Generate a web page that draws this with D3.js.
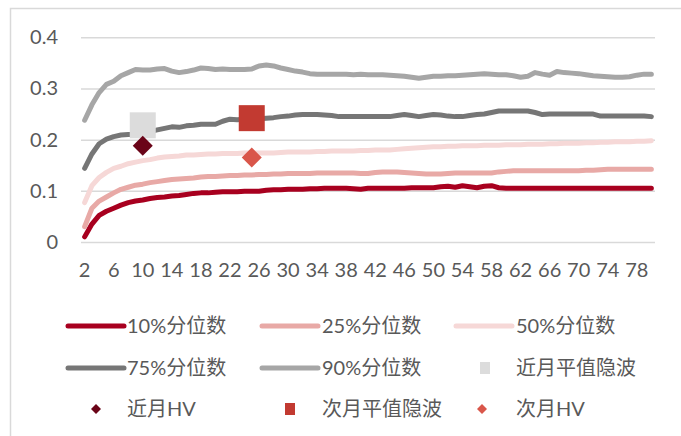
<!DOCTYPE html>
<html><head><meta charset="utf-8">
<script src="https://cdn.jsdelivr.net/npm/d3@7"></script>
<style>
html,body{margin:0;padding:0;background:#fff;}
svg text{font-family:"Lato","Noto Sans CJK SC",sans-serif;fill:#595959;}
</style></head>
<body><svg id="c" width="681" height="436"></svg>
<script>
// ---- data ----
const categories = d3.range(2, 81);
const tickLabels = [2,6,10,14,18,22,26,30,34,38,42,46,50,54,58,62,66,70,74,78];
const yTicks = [0, 0.1, 0.2, 0.3, 0.4];
const seriesNames = ["10%分位数","25%分位数","50%分位数","75%分位数","90%分位数"];
const p10 = [0.010,0.035,0.052,0.060,0.066,0.072,0.077,0.080,0.082,0.085,
  0.087,0.088,0.090,0.091,0.093,0.095,0.096,0.096,0.097,0.098,
  0.098,0.098,0.099,0.099,0.099,0.101,0.102,0.102,0.103,0.103,
  0.103,0.104,0.104,0.105,0.105,0.105,0.105,0.104,0.103,0.105,
  0.105,0.105,0.105,0.105,0.105,0.106,0.106,0.106,0.106,0.108,
  0.109,0.107,0.110,0.108,0.106,0.109,0.110,0.106,0.105,0.105,
  0.105,0.105,0.105,0.105,0.105,0.105,0.105,0.105,0.105,0.105,
  0.105,0.105,0.105,0.105,0.105,0.105,0.105,0.105,0.105];
const p25 = [0.030,0.066,0.080,0.088,0.096,0.103,0.107,0.111,0.113,0.116,
  0.118,0.120,0.122,0.123,0.124,0.125,0.127,0.128,0.128,0.129,
  0.130,0.130,0.131,0.131,0.132,0.132,0.133,0.133,0.134,0.134,
  0.134,0.134,0.135,0.135,0.135,0.135,0.135,0.135,0.134,0.134,
  0.136,0.137,0.137,0.137,0.136,0.135,0.134,0.133,0.133,0.133,
  0.134,0.135,0.135,0.135,0.135,0.135,0.135,0.137,0.138,0.139,
  0.139,0.139,0.139,0.139,0.139,0.139,0.139,0.139,0.139,0.140,
  0.140,0.141,0.142,0.142,0.142,0.142,0.142,0.142,0.142];
const p50 = [0.077,0.110,0.126,0.136,0.144,0.148,0.153,0.156,0.159,0.161,
  0.164,0.166,0.167,0.168,0.170,0.170,0.171,0.172,0.172,0.173,
  0.173,0.173,0.174,0.174,0.174,0.174,0.174,0.175,0.176,0.176,
  0.176,0.176,0.177,0.177,0.178,0.178,0.178,0.178,0.179,0.179,
  0.180,0.180,0.180,0.181,0.182,0.183,0.184,0.185,0.186,0.186,
  0.187,0.187,0.188,0.188,0.188,0.189,0.189,0.189,0.190,0.190,
  0.190,0.191,0.191,0.191,0.192,0.192,0.193,0.193,0.193,0.194,
  0.194,0.195,0.195,0.196,0.196,0.196,0.197,0.197,0.198];
const p75 = [0.144,0.172,0.192,0.201,0.206,0.209,0.210,0.210,0.212,0.216,
  0.219,0.222,0.225,0.224,0.227,0.228,0.230,0.230,0.230,0.236,
  0.240,0.239,0.240,0.240,0.241,0.242,0.243,0.245,0.246,0.248,
  0.249,0.249,0.249,0.248,0.247,0.245,0.245,0.245,0.245,0.245,
  0.245,0.245,0.245,0.247,0.249,0.247,0.245,0.247,0.249,0.248,
  0.246,0.245,0.245,0.247,0.249,0.250,0.253,0.256,0.256,0.256,
  0.256,0.256,0.253,0.249,0.250,0.250,0.250,0.250,0.250,0.250,
  0.250,0.246,0.246,0.246,0.246,0.246,0.246,0.246,0.245];
const p90 = [0.238,0.268,0.292,0.308,0.314,0.325,0.331,0.337,0.336,0.336,
  0.338,0.339,0.334,0.331,0.333,0.336,0.340,0.339,0.337,0.338,
  0.337,0.337,0.337,0.338,0.344,0.346,0.344,0.340,0.337,0.334,
  0.332,0.329,0.328,0.328,0.328,0.328,0.328,0.327,0.328,0.327,
  0.327,0.327,0.326,0.325,0.324,0.322,0.320,0.322,0.324,0.324,
  0.325,0.325,0.326,0.327,0.328,0.329,0.328,0.327,0.327,0.325,
  0.322,0.324,0.331,0.328,0.326,0.333,0.331,0.330,0.329,0.327,
  0.325,0.324,0.323,0.322,0.322,0.323,0.326,0.328,0.328];
const lineColors = ["#a8001f","#e8a9a6","#f6d8d7","#767676","#a6a6a6"];
const pointNames = ["近月平值隐波","近月HV","次月平值隐波","次月HV"];
const pointDays = [10, 10, 25, 25];
const pointValues = [0.228, 0.188, 0.242, 0.165];
const pointShapes = ["square","diamond","square","diamond"];
const pointColors = ["#dcdcdc","#6a0418","#c23a31","#d9564a"];

// ---- chart ----
const svg = d3.select("#c");
svg.append("rect").attr("x",10.5).attr("y",8.5).attr("width",700).attr("height",460)
  .attr("fill","none").attr("stroke","#d9d9d9").attr("stroke-width",1.5);

const x = d3.scaleBand().domain(categories).range([81,655]);
const y = d3.scaleLinear().domain([0,0.4]).range([242,37.3]);
const plotW = 655-81;

// grid
const grid = svg.append("g").attr("transform","translate(81,0)")
  .call(d3.axisLeft(y).tickValues(yTicks).tickSize(-plotW).tickFormat(""));
grid.select(".domain").remove();
grid.selectAll("line").attr("stroke","#d9d9d9").attr("stroke-width",1.5);

// y axis labels
const ya = svg.append("g").attr("transform","translate(81,0)")
  .call(d3.axisLeft(y).tickValues(yTicks).tickSize(0).tickPadding(23)
    .tickFormat(d => d === 0 ? "0" : d3.format(".1f")(d)));
ya.select(".domain").remove();
ya.selectAll("text").attr("font-size",20).attr("fill","#595959")
  .style("font-family","Lato, sans-serif");

// x axis labels
const xa = svg.append("g").attr("transform","translate(0,242)")
  .call(d3.axisBottom(x).tickValues(tickLabels).tickSize(0).tickPadding(21));
xa.select(".domain").remove();
xa.selectAll("text").attr("font-size",20).attr("fill","#595959")
  .style("font-family","Lato, sans-serif");

// lines
const series = [p10,p25,p50,p75,p90];
const line = d3.line().x((d,i) => x(categories[i]) + x.bandwidth()/2).y(d => y(d));
series.forEach((s,k) => {
  svg.append("path").datum(s).attr("d", line)
    .attr("fill","none").attr("stroke",lineColors[k]).attr("stroke-width",5)
    .attr("stroke-linejoin","round").attr("stroke-linecap","round");
});

// points
const sym = {square: d3.symbolSquare, diamond: d3.symbolSquare};
pointValues.forEach((v,i) => {
  const cx = x(pointDays[i]) + x.bandwidth()/2, cy = y(v);
  if (pointShapes[i] === "square") {
    svg.append("rect").attr("x",cx-13).attr("y",cy-13).attr("width",26).attr("height",26)
      .attr("fill",pointColors[i]);
  } else {
    svg.append("path").attr("d", d3.symbol(d3.symbolSquare, 200)())
      .attr("transform",`translate(${cx},${cy}) rotate(45)`).attr("fill",pointColors[i]);
  }
});

// legend
const leg = svg.append("g").attr("font-size",20);
const legItems = [
  {name:seriesNames[0], type:"line", color:lineColors[0], lx:68, tx:127, y:326},
  {name:seriesNames[1], type:"line", color:lineColors[1], lx:262, tx:322, y:326},
  {name:seriesNames[2], type:"line", color:lineColors[2], lx:456, tx:516, y:326},
  {name:seriesNames[3], type:"line", color:lineColors[3], lx:68, tx:127, y:368},
  {name:seriesNames[4], type:"line", color:lineColors[4], lx:262, tx:322, y:368},
  {name:pointNames[0], type:"square", color:pointColors[0], lx:485, tx:516, y:368},
  {name:pointNames[1], type:"diamond", color:pointColors[1], lx:96, tx:127, y:409},
  {name:pointNames[2], type:"square", color:pointColors[2], lx:290, tx:322, y:409},
  {name:pointNames[3], type:"diamond", color:pointColors[3], lx:482, tx:516, y:409}
];
legItems.forEach(it => {
  if (it.type === "line") {
    leg.append("line").attr("x1",it.lx).attr("x2",it.lx+56).attr("y1",it.y).attr("y2",it.y)
      .attr("stroke",it.color).attr("stroke-width",5).attr("stroke-linecap","round");
  } else if (it.type === "square") {
    leg.append("rect").attr("x",it.lx-5).attr("y",it.y-6).attr("width",10).attr("height",12)
      .attr("fill",it.color);
  } else {
    leg.append("path").attr("d", d3.symbol(d3.symbolSquare, 50)())
      .attr("transform",`translate(${it.lx},${it.y}) rotate(45)`).attr("fill",it.color);
  }
  leg.append("text").attr("x",it.tx).attr("y",it.y).attr("dy","0.35em").text(it.name);
});
</script></body></html>
